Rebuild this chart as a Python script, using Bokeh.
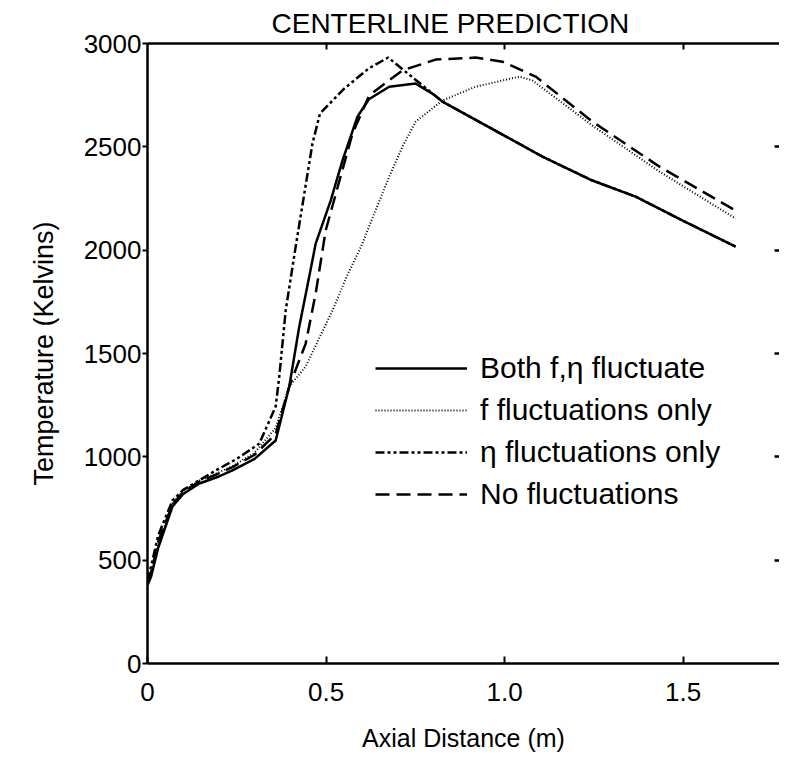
from bokeh.plotting import figure
from bokeh.models import Range1d, LinearAxis, Legend, LegendItem, FixedTicker
from bokeh.embed import file_html
from bokeh.resources import INLINE

FONT = "Liberation Sans"

title_text = "CENTERLINE PREDICTION"
x_label = "Axial Distance (m)"
y_label = "Temperature (Kelvins)"

x_ticks = [0, 0.5, 1.0, 1.5]
x_tick_labels = ["0", "0.5", "1.0", "1.5"]
y_ticks = [0, 500, 1000, 1500, 2000, 2500, 3000]
y_tick_labels = ["0", "500", "1000", "1500", "2000", "2500", "3000"]

series_names = ["Both f,\u03b7 fluctuate", "f fluctuations only", "\u03b7 fluctuations only", "No fluctuations"]

both_x = [0, 0.01, 0.03, 0.07, 0.1, 0.145, 0.2, 0.238, 0.3, 0.359, 0.397, 0.425, 0.453, 0.471, 0.513, 0.546, 0.588,
          0.62, 0.677, 0.751, 0.80, 0.826, 1.106, 1.246, 1.367, 1.499, 1.647]
both_t = [380, 420, 560, 760, 820, 871, 905, 934, 990, 1079, 1340, 1630, 1872, 2032, 2240, 2433, 2646,
          2730, 2791, 2806, 2755, 2719, 2453, 2337, 2259, 2143, 2017]

f_x = [0, 0.01, 0.03, 0.07, 0.1, 0.145, 0.2, 0.238, 0.3, 0.359, 0.397, 0.443, 0.518, 0.56, 0.602, 0.616, 0.677,
       0.714, 0.751, 0.826, 0.919, 1.042, 1.078, 1.246, 1.434, 1.647]
f_t = [385, 435, 580, 775, 835, 885, 925, 955, 1020, 1140, 1340, 1437, 1708, 1880, 2032, 2095, 2356,
       2501, 2622, 2724, 2791, 2840, 2821, 2603, 2380, 2153]

eta_x = [0, 0.01, 0.03, 0.07, 0.1, 0.191, 0.25, 0.313, 0.359, 0.369, 0.387, 0.415, 0.462, 0.483, 0.55, 0.62,
         0.674, 0.826, 1.106, 1.246, 1.367, 1.499, 1.647]
eta_t = [400, 470, 620, 789, 840, 934, 990, 1064, 1243, 1388, 1708, 2017, 2516, 2661, 2780, 2880,
         2932, 2719, 2453, 2337, 2259, 2143, 2017]

no_x = [0, 0.01, 0.03, 0.07, 0.1, 0.145, 0.2, 0.238, 0.3, 0.359, 0.397, 0.443, 0.471, 0.499, 0.574, 0.621,
        0.714, 0.807, 0.919, 0.994, 1.087, 1.246, 1.434, 1.647]
no_t = [390, 440, 590, 770, 830, 880, 920, 950, 1010, 1110, 1340, 1548, 1790, 2095, 2564, 2749,
        2870, 2922, 2932, 2912, 2840, 2622, 2404, 2192]

p = figure(frame_width=632, frame_height=620,
           x_range=Range1d(0, 1.77), y_range=Range1d(0, 3000),
           output_backend="svg", toolbar_location=None,
           min_border_left=147, min_border_top=32, min_border_right=0, min_border_bottom=96)
p.xgrid.visible = False
p.ygrid.visible = False
p.outline_line_color = None
p.background_fill_color = "white"
p.border_fill_color = "white"

p.title.text = title_text
p.title.align = "left"
p.title.offset = 124
p.title.text_font = FONT
p.title.text_font_size = "28px"
p.title.text_font_style = "normal"
p.title.text_color = "black"

xa = p.xaxis[0]
xa.ticker = FixedTicker(ticks=x_ticks)
xa.major_label_overrides = {t: l for t, l in zip(x_ticks, x_tick_labels)}
xa.major_tick_in = 7
xa.major_tick_out = 0
xa.minor_tick_line_color = None
xa.axis_line_width = 2.5
xa.axis_line_color = "black"
xa.major_tick_line_width = 2
xa.major_tick_line_color = "black"
xa.major_label_text_font = FONT
xa.major_label_text_font_size = "26px"
xa.major_label_text_color = "black"
xa.major_label_standoff = 19
xa.axis_label = x_label
xa.axis_label_text_font = FONT
xa.axis_label_text_font_size = "25px"
xa.axis_label_text_font_style = "normal"
xa.axis_label_text_color = "black"
xa.axis_label_standoff = 20

ya = p.yaxis[0]
ya.ticker = FixedTicker(ticks=y_ticks)
ya.major_label_overrides = {t: l for t, l in zip(y_ticks, y_tick_labels)}
ya.major_tick_in = 0
ya.major_tick_out = 5
ya.minor_tick_line_color = None
ya.axis_line_width = 2.5
ya.axis_line_color = "black"
ya.major_tick_line_width = 2
ya.major_tick_line_color = "black"
ya.major_label_text_font = FONT
ya.major_label_text_font_size = "26px"
ya.major_label_text_color = "black"
ya.major_label_standoff = 1
ya.axis_label = y_label
ya.axis_label_text_font = FONT
ya.axis_label_text_font_size = "27px"
ya.axis_label_text_font_style = "normal"
ya.axis_label_text_color = "black"
ya.axis_label_standoff = 22

top_axis = LinearAxis(ticker=FixedTicker(ticks=x_ticks[1:]),
                      major_label_text_font_size="1px", major_label_text_color=None,
                      major_tick_in=6, major_tick_out=0, minor_tick_line_color=None,
                      axis_line_width=2.5, axis_line_color="black", major_tick_line_width=2,
                      major_label_standoff=0)
p.add_layout(top_axis, "above")

right_axis = LinearAxis(ticker=FixedTicker(ticks=y_ticks[1:-1]),
                        major_label_text_font_size="1px", major_label_text_color=None,
                        major_tick_in=5, major_tick_out=0, minor_tick_line_color=None,
                        axis_line_color=None, major_tick_line_width=2.5, major_label_standoff=0)
p.add_layout(right_axis, "right")

r_both = p.line(both_x, both_t, line_color="black", line_width=2.5)
r_f = p.line(f_x, f_t, line_color="black", line_width=2, line_dash="1 2")
r_eta = p.line(eta_x, eta_t, line_color="black", line_width=2.5, line_dash="9 3 3 3 3 3")
r_no = p.line(no_x, no_t, line_color="black", line_width=2.5, line_dash="14 7")

legend = Legend(items=[LegendItem(label=series_names[0], renderers=[r_both]),
                       LegendItem(label=series_names[1], renderers=[r_f]),
                       LegendItem(label=series_names[2], renderers=[r_eta]),
                       LegendItem(label=series_names[3], renderers=[r_no])],
                location=(228, 148), glyph_width=92, glyph_height=42, label_height=42,
                label_standoff=13, spacing=0, padding=0, margin=0,
                border_line_color=None, background_fill_alpha=0,
                label_text_font=FONT, label_text_font_size="30px", label_text_color="black")
p.add_layout(legend, "center")

open("out.html", "w").write(file_html(p, INLINE))
